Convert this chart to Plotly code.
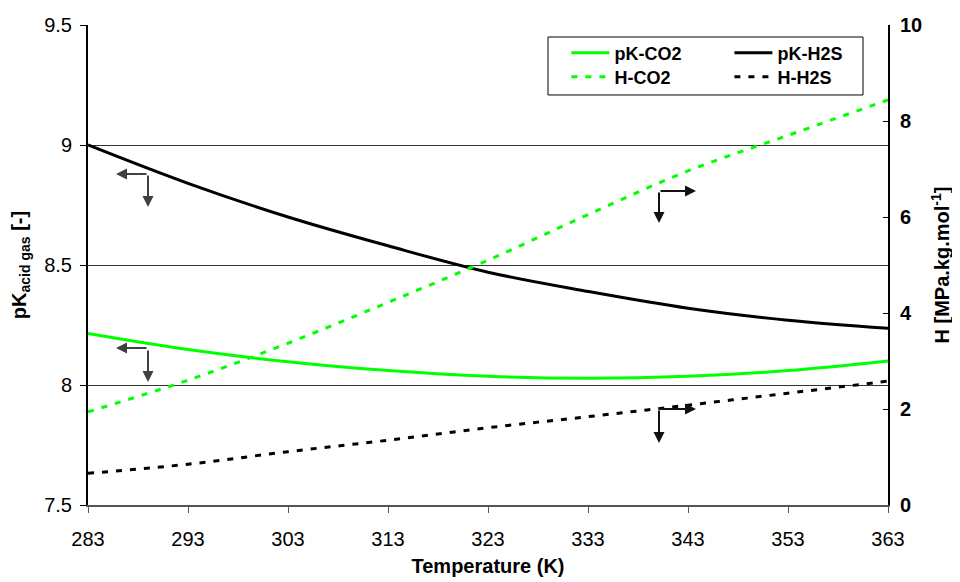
import plotly.graph_objects as go

temperature = [283, 293, 303, 313, 323, 333, 343, 353, 363]
pk_co2 = [8.215, 8.148, 8.097, 8.060, 8.036, 8.028, 8.036, 8.060, 8.100]
pk_h2s = [9.0, 8.84, 8.70, 8.58, 8.47, 8.39, 8.32, 8.27, 8.236]
h_co2 = [1.94, 2.60, 3.37, 4.22, 5.10, 6.05, 6.96, 7.70, 8.44]
h_h2s = [0.66, 0.85, 1.11, 1.35, 1.61, 1.84, 2.08, 2.33, 2.58]

x_ticks = [283, 293, 303, 313, 323, 333, 343, 353, 363]
left_ticks = [7.5, 8, 8.5, 9, 9.5]
right_ticks = [0, 2, 4, 6, 8, 10]

GREEN = "#00FF00"
FONT = "Liberation Sans, Arial, sans-serif"

fig = go.Figure()
fig.add_trace(go.Scatter(x=temperature, y=pk_co2, name="pK-CO2", mode="lines",
                         line=dict(color=GREEN, width=3, shape="spline"), legend="legend"))
fig.add_trace(go.Scatter(x=temperature, y=pk_h2s, name="pK-H2S", mode="lines",
                         line=dict(color="black", width=3, shape="spline"), legend="legend"))
fig.add_trace(go.Scatter(x=temperature, y=h_co2, name="H-CO2", mode="lines", yaxis="y2",
                         line=dict(color=GREEN, width=3, dash="6px,8px", shape="spline"), legend="legend2"))
fig.add_trace(go.Scatter(x=temperature, y=h_h2s, name="H-H2S", mode="lines", yaxis="y2",
                         line=dict(color="black", width=3, dash="6px,8px", shape="spline"), legend="legend2"))

# L-shaped arrows pointing to the axis each curve belongs to
arrows = [
    # (tip_x, tip_y, ax, ay, color)
    (285.8, 8.879, 32, 0, "#404040"),
    (289.0, 8.742, 0, -33, "#404040"),
    (285.8, 8.154, 32, 0, "#404040"),
    (289.0, 8.0125, 0, -33, "#404040"),
    (343.8, 8.808, -37, 0, "#111111"),
    (340.1, 8.675, 0, -32, "#111111"),
    (343.8, 7.90, -37, 0, "#111111"),
    (340.1, 7.758, 0, -34, "#111111"),
]
for tx, ty, ax, ay, col in arrows:
    fig.add_annotation(x=tx, y=ty, xref="x", yref="y", ax=ax, ay=ay, text="",
                       showarrow=True, arrowhead=2, arrowsize=1.1, arrowwidth=2,
                       arrowcolor=col, standoff=0, startstandoff=0)

# legend frame
fig.add_shape(type="rect", xref="paper", yref="paper", x0=0.575, x1=0.96875,
              y0=0.8542, y1=0.975, line=dict(color="black", width=1), fillcolor="white",
              layer="above")

legend_common = dict(orientation="h", xanchor="left", yanchor="middle",
                     bgcolor="rgba(0,0,0,0)", borderwidth=0,
                     font=dict(family=FONT, size=18, color="black", weight="bold"),
                     entrywidth=110, entrywidthmode="pixels", itemwidth=38,
                     tracegroupgap=0)

# the page has an 8px body margin; the figure is sized so the plot area lands
# at the same place as in the reference
fig.update_layout(
    width=952, height=574,
    margin=dict(l=80, r=72, t=17, b=77, autoexpand=False),
    paper_bgcolor="white", plot_bgcolor="white",
    font=dict(family=FONT, size=20, color="black"),
    showlegend=True,
    legend=dict(x=0.598, y=0.9417, **legend_common),
    legend2=dict(x=0.598, y=0.8917, **legend_common),
    xaxis=dict(range=[283, 363], tickvals=x_ticks, ticktext=[str(v) for v in x_ticks],
               automargin=False,
               showgrid=False, zeroline=False, showline=True, linecolor="#555555", linewidth=2,
               ticks="outside", ticklen=6, tickwidth=1, tickcolor="#555555",
               tickfont=dict(size=20), ticklabelstandoff=9,
               title=dict(text="<b>Temperature (K)</b>", font=dict(size=20), standoff=10)),
    yaxis=dict(range=[7.5, 9.5], tickvals=left_ticks, ticktext=["7.5", "8", "8.5", "9", "9.5"],
               automargin=False,
               showgrid=True, gridcolor="#333333", gridwidth=1, zeroline=False,
               showline=True, linecolor="black", linewidth=2,
               ticks="outside", ticklen=6, tickcolor="black", tickfont=dict(size=20),
               ticklabelstandoff=4,
               title=dict(text="<b>pK<sub>acid gas</sub> [-]</b>", font=dict(size=20), standoff=12)),
    yaxis2=dict(range=[0, 10], tickvals=right_ticks, overlaying="y", side="right",
                automargin=False,
                showgrid=False, zeroline=False, showline=True, linecolor="black", linewidth=2,
                ticks="inside", ticklen=5, tickcolor="black",
                tickfont=dict(size=20, weight="bold"), ticklabelstandoff=6,
                title=dict(text="<b>H [MPa.kg.mol<sup>-1</sup>]</b>", font=dict(size=20), standoff=14)),
)

fig.write_html("out.html")
